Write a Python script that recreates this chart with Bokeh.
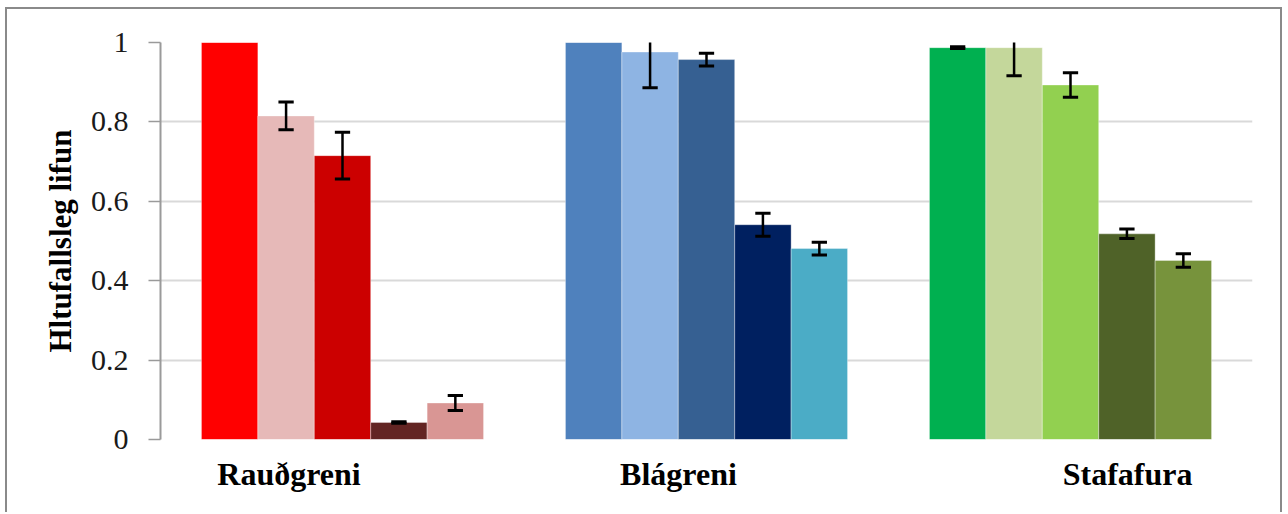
from bokeh.plotting import figure
from bokeh.models import Range1d, FixedTicker, ColumnDataSource
from bokeh.embed import file_html
from bokeh.resources import INLINE

# ---- data ----
species = ["Rauðgreni", "Blágreni", "Stafafura"]
raud_vals = [1.0, 0.815, 0.715, 0.043, 0.092]
raud_err = [0.0, 0.035, 0.059, 0.002, 0.019]
blag_vals = [1.0, 0.976, 0.957, 0.541, 0.481]
blag_err = [0.0, 0.090, 0.016, 0.029, 0.016]
staf_vals = [0.987, 0.987, 0.893, 0.518, 0.451]
staf_err = [0.002, 0.071, 0.031, 0.012, 0.017]
ytick_values = [0, 0.2, 0.4, 0.6, 0.8, 1]
ytick_labels = ["0", "0.2", "0.4", "0.6", "0.8", "1"]
y_title = "Hltufallsleg lifun"

# ---- styles ----
raud_colors = ["#FF0000", "#E6B9B8", "#CC0000", "#632523", "#D99694"]
blag_colors = ["#4F81BD", "#8EB4E3", "#366092", "#002060", "#4BACC6"]
staf_colors = ["#00B050", "#C4D79B", "#92D050", "#4F6228", "#77933C"]
label_pos = [0.353, 1.423, 2.657]
bar_w = 0.155
cap_half = 0.021

groups = [(raud_vals, raud_err, raud_colors),
          (blag_vals, blag_err, blag_colors),
          (staf_vals, staf_err, staf_colors)]

xs, tops, cols = [], [], []
ex, elo, ehi = [], [], []
for gi, (vals, errs, colors) in enumerate(groups):
    for j, (v, e, c) in enumerate(zip(vals, errs, colors)):
        x = gi + 0.5 + (j - 2) * bar_w
        xs.append(x); tops.append(v); cols.append(c)
        if e > 0:
            ex.append(x); elo.append(v - e); ehi.append(v + e)

p = figure(width=1277, height=505, x_range=Range1d(0, 3), y_range=Range1d(0, 1),
           output_backend="svg", toolbar_location=None,
           min_border_left=153, min_border_top=33, min_border_right=32,
           min_border_bottom=75)
p.styles = {"border-top": "2px solid #8a8a8a", "border-left": "2px solid #8a8a8a",
            "border-right": "2px solid #8a8a8a",
            "margin-left": "5px", "margin-top": "7px"}
p.outline_line_color = None
p.background_fill_color = "white"
p.border_fill_color = "white"

bars = ColumnDataSource(dict(x=xs, top=tops, color=cols))
p.vbar(x="x", top="top", bottom=0, width=bar_w, fill_color="color",
       line_color="white", line_alpha=0.35, line_width=1, source=bars)

err = ColumnDataSource(dict(x=ex, lo=elo, hi=ehi,
                            xl=[x - cap_half for x in ex], xr=[x + cap_half for x in ex]))
p.segment(x0="x", y0="lo", x1="x", y1="hi", line_color="black", line_width=2.5, source=err)
p.segment(x0="xl", y0="hi", x1="xr", y1="hi", line_color="black", line_width=3, source=err)
p.segment(x0="xl", y0="lo", x1="xr", y1="lo", line_color="black", line_width=3, source=err)

# y axis
ya = p.yaxis[0]
ya.ticker = FixedTicker(ticks=ytick_values)
ya.major_label_overrides = {v: l for v, l in zip(ytick_values, ytick_labels)}
ya.axis_line_color = "#9a9a9a"
ya.axis_line_width = 2
ya.major_tick_line_color = "#9a9a9a"
ya.major_tick_line_width = 1.5
ya.major_tick_out = 12
ya.major_tick_in = 0
ya.minor_tick_line_color = None
ya.major_label_text_font = "Liberation Serif"
ya.major_label_text_font_size = "30px"
ya.major_label_text_color = "#1a1a1a"
ya.major_label_standoff = 20
ya.axis_label = y_title
ya.axis_label_text_font = "Liberation Serif"
ya.axis_label_text_font_style = "bold"
ya.axis_label_text_font_size = "31px"
ya.axis_label_text_color = "black"
ya.axis_label_standoff = 10

# x axis with category labels
xa = p.xaxis[0]
xa.ticker = FixedTicker(ticks=label_pos)
xa.major_label_overrides = {v: s for v, s in zip(label_pos, species)}
xa.axis_line_color = None
xa.major_tick_line_color = None
xa.minor_tick_line_color = None
xa.major_label_text_font = "Liberation Serif"
xa.major_label_text_font_style = "bold"
xa.major_label_text_font_size = "32px"
xa.major_label_text_color = "black"
xa.major_label_standoff = 10

p.xgrid.grid_line_color = None
p.ygrid.ticker = FixedTicker(ticks=ytick_values)
p.ygrid.grid_line_color = "#d9d9d9"
p.ygrid.grid_line_width = 2

open("out.html", "w").write(file_html(p, INLINE))
